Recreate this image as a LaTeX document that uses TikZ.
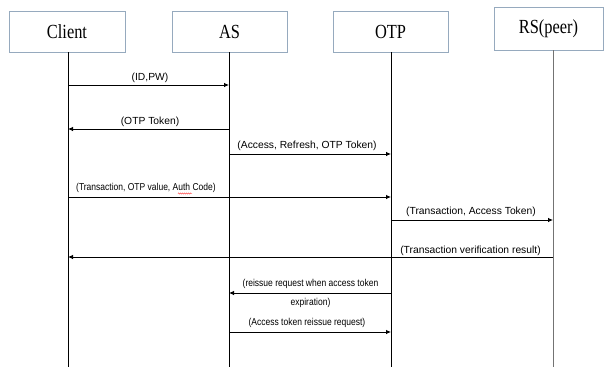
\documentclass[tikz,border=0pt]{standalone}
\usepackage{fontspec}
\setmainfont{Liberation Sans}
\newfontfamily\boxfont[FakeStretch=0.82]{Liberation Serif}
\newfontfamily\narrowfont[FakeStretch=0.85]{Liberation Sans}
\usetikzlibrary{arrows.meta,decorations.pathmorphing}
\definecolor{boxline}{RGB}{150,170,190}
\begin{document}
\begin{tikzpicture}[x=1pt,y=-1pt,
  actor/.style={draw=boxline, line width=0.8pt, fill=white, inner sep=0pt,
    font=\boxfont\fontsize{20}{20}\selectfont},
  life/.style={line width=0.8pt},
  msg/.style={line width=0.8pt, -{Latex[length=5pt,width=4.5pt]}},
  lbl/.style={font=\fontsize{10.3}{12}\selectfont, anchor=base, inner sep=0pt},
  slbl/.style={font=\narrowfont\fontsize{10}{12}\selectfont, anchor=base, inner sep=0pt}]
\useasboundingbox (0,0) rectangle (606,367);
% actors
\node[actor, minimum width=116pt, minimum height=41pt] (client) at (67,31.5) {Client};
\node[actor, minimum width=115pt, minimum height=41pt] (as) at (229.5,31.5) {AS};
\node[actor, minimum width=115pt, minimum height=41pt] (otp) at (390.5,31.5) {OTP};
\node[actor, minimum width=109pt, minimum height=43pt] (rs) at (548.5,28.5) {RS(peer)};
% lifelines
\coordinate (cl) at (68,52);   \coordinate (clE) at (68,367);
\coordinate (al) at (229,52);  \coordinate (alE) at (229,367);
\coordinate (ol) at (391,52);  \coordinate (olE) at (391,367);
\coordinate (rl) at (553,50);  \coordinate (rlE) at (553,367);
\draw[life] (cl) -- (clE);
\draw[life] (al) -- (alE);
\draw[life] (ol) -- (olE);
\draw[life, draw=black!55, line width=1pt] (rl) -- (rlE);
% messages
\draw[msg] (cl |- 0,85) -- (al |- 0,85);
\node[lbl] (m1) at (150,80) {(ID,PW)};
\draw[msg] (al |- 0,129) -- (cl |- 0,129);
\node[lbl] (m2) at (150,124.5) {(OTP Token)};
\draw[msg] (al |- 0,154) -- (ol |- 0,154);
\node[lbl] (m3) at (307,148) {(Access, Refresh, OTP Token)};
\draw[msg] (cl |- 0,197) -- (ol |- 0,197);
\node[slbl, anchor=base west] (m4) at (76,190) {(Transaction, OTP value, Auth Code)};
\draw[red!80, line width=0.4pt, decorate, decoration={snake, amplitude=0.6pt, segment length=2pt}] (178,193.5) -- (192,193.5);
\draw[msg] (ol |- 0,220) -- (rl |- 0,220);
\node[lbl] (m5) at (471,214) {(Transaction, Access Token)};
\draw[msg] (rl |- 0,257) -- (cl |- 0,257);
\node[lbl] (m6) at (470.5,253.5) {(Transaction verification result)};
\draw[msg] (ol |- 0,293) -- (al |- 0,293);
\node[slbl] (m7a) at (310.5,286) {(reissue request when access token};
\node[slbl] (m7b) at (310.5,305) {expiration)};
\draw[msg] (al |- 0,332) -- (ol |- 0,332);
\node[slbl] (m8) at (307,325) {(Access token reissue request)};
\end{tikzpicture}
\end{document}
